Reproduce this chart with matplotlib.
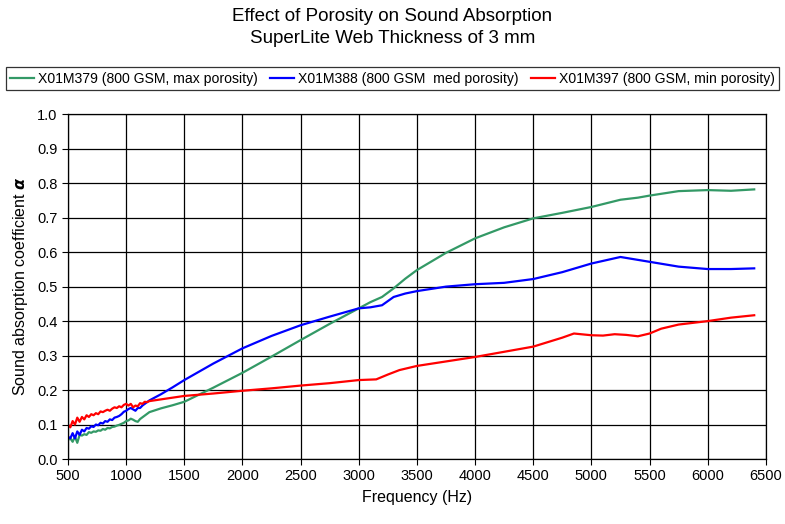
import matplotlib
matplotlib.use('Agg')
import matplotlib.pyplot as plt
from matplotlib.ticker import MultipleLocator, FormatStrFormatter

plt.rcParams['font.family'] = ['Liberation Sans', 'DejaVu Sans']

# --- data ---
f_lo = [500, 520, 540, 560, 580, 600, 620, 640, 660, 680, 700, 720, 740, 760, 780,
        800, 820, 840, 860, 880, 900, 920, 940, 960, 980, 1000, 1020, 1040, 1060,
        1080, 1100, 1120, 1140, 1160, 1180, 1200]

f_max = f_lo + [1300, 1400, 1500, 1750, 2000, 2250, 2500, 2750, 3000, 3100, 3200,
                3300, 3400, 3500, 3750, 4000, 4250, 4500, 4750, 5000, 5250, 5400,
                5500, 5750, 6000, 6200, 6400]
a_max = [0.055, 0.06, 0.05, 0.065, 0.047, 0.07, 0.068, 0.072, 0.07, 0.078, 0.076,
         0.08, 0.079, 0.083, 0.082, 0.087, 0.085, 0.09, 0.089, 0.093, 0.094, 0.097,
         0.099, 0.102, 0.105, 0.11, 0.112, 0.117, 0.114, 0.11, 0.108, 0.116, 0.121,
         0.126, 0.131, 0.136,
         0.147, 0.156, 0.166, 0.207, 0.25, 0.297, 0.345, 0.392, 0.437, 0.455, 0.47,
         0.495, 0.523, 0.548, 0.598, 0.64, 0.672, 0.698, 0.714, 0.731, 0.752, 0.758,
         0.764, 0.777, 0.78, 0.778, 0.782]

f_med = f_lo + [1300, 1400, 1500, 1750, 2000, 2250, 2500, 2750, 3000, 3100, 3200,
                3300, 3400, 3500, 3750, 4000, 4250, 4500, 4750, 5000, 5250, 5500,
                5750, 6000, 6200, 6400]
a_med = [0.065, 0.06, 0.075, 0.06, 0.08, 0.07, 0.085, 0.08, 0.09, 0.088, 0.095,
         0.093, 0.1, 0.098, 0.105, 0.103, 0.11, 0.108, 0.115, 0.113, 0.12, 0.122,
         0.125, 0.13, 0.137, 0.14, 0.145, 0.148, 0.144, 0.14, 0.148, 0.148, 0.155,
         0.16, 0.165, 0.17,
         0.188, 0.208, 0.229, 0.277, 0.321, 0.357, 0.388, 0.413, 0.437, 0.44, 0.446,
         0.47, 0.48, 0.487, 0.5, 0.507, 0.511, 0.522, 0.542, 0.567, 0.586, 0.572,
         0.558, 0.551, 0.551, 0.553]

f_min = f_lo + [1300, 1400, 1500, 1750, 2000, 2250, 2500, 2750, 3000, 3150, 3250,
                3350, 3500, 3750, 4000, 4250, 4500, 4750, 4850, 5000, 5100, 5200,
                5300, 5400, 5500, 5600, 5750, 6000, 6200, 6400]
a_min = [0.1, 0.092, 0.11, 0.1, 0.12, 0.108, 0.122, 0.115, 0.127, 0.122, 0.13,
         0.127, 0.133, 0.13, 0.138, 0.136, 0.14, 0.143, 0.14, 0.146, 0.15, 0.148,
         0.153, 0.15, 0.157, 0.16, 0.155, 0.16, 0.15, 0.155, 0.153, 0.162, 0.16,
         0.166, 0.165, 0.168,
         0.173, 0.178, 0.183, 0.19, 0.198, 0.205, 0.213, 0.22, 0.229, 0.231, 0.245,
         0.258, 0.27, 0.283, 0.296, 0.311, 0.326, 0.352, 0.364, 0.359, 0.358, 0.362,
         0.36, 0.356, 0.364, 0.378, 0.39, 0.4, 0.41, 0.417]

labels = ['X01M379 (800 GSM, max porosity)',
          'X01M388 (800 GSM  med porosity)',
          'X01M397 (800 GSM, min porosity)']
colors = ['#339966', '#0000FF', '#FF0000']

fig = plt.figure(figsize=(7.85, 5.24), dpi=100)
ax = fig.add_axes([0.0866, 0.124, 0.889, 0.658])

for f, a, lab, c in zip([f_max, f_med, f_min], [a_max, a_med, a_min], labels, colors):
    ax.plot(f, a, color=c, lw=1.6, label=lab)

ax.set_xlim(500, 6500)
ax.set_ylim(0, 1.0)
ax.xaxis.set_major_locator(MultipleLocator(500))
ax.yaxis.set_major_locator(MultipleLocator(0.1))
ax.yaxis.set_major_formatter(FormatStrFormatter('%.1f'))
ax.grid(True, color='black', lw=0.9)
ax.tick_params(direction='out', length=4, color='black', labelsize=10.5)
for s in ax.spines.values():
    s.set_color('black')
    s.set_linewidth(0.9)

ax.set_xlabel('Frequency (Hz)', fontsize=11.5, labelpad=5)
ax.set_ylabel(r'Sound absorption coefficient $\boldsymbol{\alpha}$', fontsize=11.5, labelpad=5)

fig.text(0.5, 0.968, 'Effect of Porosity on Sound Absorption', ha='center', va='center', fontsize=13.5)
fig.text(0.5, 0.926, 'SuperLite Web Thickness of 3 mm', ha='center', va='center', fontsize=13.5)

leg = fig.legend(loc='center', bbox_to_anchor=(0.5, 0.85), ncol=3, fontsize=10.1,
                 frameon=True, fancybox=False, edgecolor='black', handlelength=1.7,
                 handletextpad=0.3, columnspacing=0.9, borderpad=0.3, borderaxespad=0)
leg.get_frame().set_linewidth(0.9)

fig.savefig('out.png', dpi=100)
